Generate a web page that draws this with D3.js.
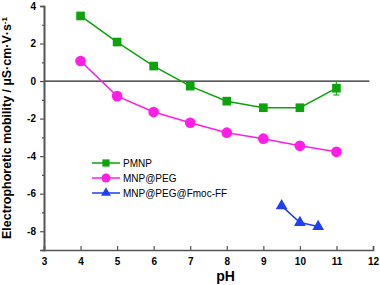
<!DOCTYPE html>
<html>
<head>
<meta charset="utf-8">
<script src="https://cdn.jsdelivr.net/npm/d3@7"></script>
<style>
  body { margin: 0; background: #fff; }
  svg { display: block; font-family: Arial, "Liberation Sans", sans-serif; }
  .tick text { font-weight: bold; font-size: 10px; fill: #000; }
</style>
</head>
<body>
<svg class="chart" width="380" height="285"></svg>
<script>
const pmnpX = [4, 5, 6, 7, 8, 9, 10, 11];
const pmnpY = [3.47, 2.08, 0.8, -0.27, -1.07, -1.42, -1.42, -0.38];
const pmnpErr = [0, 0.12, 0, 0, 0, 0, 0, 0.36];

const pegX = [4, 5, 6, 7, 8, 9, 10, 11];
const pegY = [1.07, -0.8, -1.65, -2.22, -2.75, -3.07, -3.45, -3.77];
const pegErr = [0, 0.2, 0, 0, 0, 0, 0, 0];

const fmocX = [9.5, 10, 10.5];
const fmocY = [-6.65, -7.54, -7.75];

const xTicks = [3, 4, 5, 6, 7, 8, 9, 10, 11, 12];
const yTicks = [-8, -6, -4, -2, 0, 2, 4];
const yMinor = [-9, -7, -5, -3, -1, 1, 3];

const margin = { top: 6, right: 7, bottom: 35, left: 44 };
const width = 380 - margin.left - margin.right;
const height = 285 - margin.top - margin.bottom;

const svg = d3.select("svg.chart")
  .append("g")
  .attr("transform", "translate(" + margin.left + "," + margin.top + ")");

const x = d3.scaleLinear().domain([3, 12]).range([0, width]);
const y = d3.scaleLinear().domain([-9, 4]).range([height, 0]);

// zero line
svg.append("line")
  .attr("x1", x(3)).attr("x2", x(11.9))
  .attr("y1", y(0)).attr("y2", y(0))
  .attr("stroke", "#222").attr("stroke-width", 1.3);

// axes
const yAxis = svg.append("g")
  .call(d3.axisLeft(y).tickValues(yTicks).tickSize(4).tickPadding(4));
svg.append("g")
  .call(d3.axisLeft(y).tickValues(yMinor).tickSize(2).tickFormat(""));
const xAxis = svg.append("g")
  .attr("transform", "translate(0," + height + ")")
  .call(d3.axisBottom(x).tickValues(xTicks).tickSize(-4).tickPadding(6));

svg.selectAll(".domain").attr("stroke", "#555").attr("stroke-width", 1.6);
svg.selectAll(".tick line").attr("stroke", "#555").attr("stroke-width", 1.2);
yAxis.selectAll(".tick text").text(d => d < 0 ? "-" + Math.abs(d) : d);
xAxis.selectAll(".tick text").attr("dy", "0.9em");

const series = [
  { name: "PMNP", xs: pmnpX, ys: pmnpY, err: pmnpErr, color: "#0ca30c", shape: d3.symbolSquare, size: 75 },
  { name: "MNP@PEG", xs: pegX, ys: pegY, err: pegErr, color: "#ff1ee6", shape: d3.symbolCircle, size: 90 },
  { name: "MNP@PEG@Fmoc-FF", xs: fmocX, ys: fmocY, err: null, color: "#1f3ff2", shape: d3.symbolTriangle, size: 60 }
];

const line = d3.line().x(d => x(d[0])).y(d => y(d[1]));

series.forEach(s => {
  const pts = s.xs.map((v, i) => [v, s.ys[i], s.err ? s.err[i] : 0]);
  svg.append("path")
    .datum(pts)
    .attr("fill", "none")
    .attr("stroke", s.color)
    .attr("stroke-width", 1.5)
    .attr("d", line);

  pts.filter(d => d[2] > 0).forEach(d => {
    const g = svg.append("g").attr("stroke", s.color).attr("stroke-width", 1.3).attr("opacity", 0.85);
    g.append("line").attr("x1", x(d[0])).attr("x2", x(d[0])).attr("y1", y(d[1] + d[2])).attr("y2", y(d[1] - d[2]));
    g.append("line").attr("x1", x(d[0]) - 3).attr("x2", x(d[0]) + 3).attr("y1", y(d[1] + d[2])).attr("y2", y(d[1] + d[2]));
    g.append("line").attr("x1", x(d[0]) - 3).attr("x2", x(d[0]) + 3).attr("y1", y(d[1] - d[2])).attr("y2", y(d[1] - d[2]));
  });

  svg.selectAll(null)
    .data(pts)
    .enter().append("path")
    .attr("d", d3.symbol().type(s.shape).size(s.size))
    .attr("transform", d => "translate(" + x(d[0]) + "," + y(d[1]) + ")")
    .attr("fill", s.color);
});

// legend
const legend = svg.append("g").attr("transform", "translate(" + (92 - margin.left) + "," + (163 - margin.top) + ")");
series.forEach((s, i) => {
  const row = legend.append("g").attr("transform", "translate(0," + (i * 15) + ")");
  row.append("line").attr("x1", 0).attr("x2", 28).attr("y1", 0).attr("y2", 0)
    .attr("stroke", s.color).attr("stroke-width", 1.5);
  row.append("path").attr("d", d3.symbol().type(s.shape).size(s.size * 0.7))
    .attr("transform", "translate(14,0)").attr("fill", s.color);
  row.append("text").attr("x", 31).attr("y", 0).attr("dy", "0.35em")
    .attr("font-size", 10).attr("fill", "#000").text(s.name);
});

// axis titles
svg.append("text")
  .attr("x", width / 2 + 17)
  .attr("y", height + 31)
  .attr("text-anchor", "middle")
  .attr("font-weight", "bold").attr("font-size", 14)
  .text("pH");

const yt = svg.append("text")
  .attr("transform", "translate(" + (-33) + "," + (y(-2.5)) + ") rotate(-90)")
  .attr("text-anchor", "middle")
  .attr("font-weight", "bold").attr("font-size", 12.5);
yt.append("tspan").text("Electrophoretic mobility / µS·cm·V·s");
yt.append("tspan").attr("dy", "-0.45em").attr("font-size", 8).text("-1");
</script>
</body>
</html>
